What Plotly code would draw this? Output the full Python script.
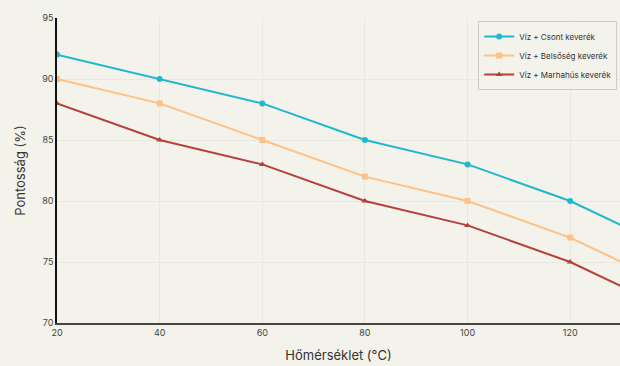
import plotly.graph_objects as go

# temperature points (°C)
homerseklet = [20, 40, 60, 80, 100, 120, 140]

# accuracy (%) per mixture
csont = [92, 90, 88, 85, 83, 80, 76]
belsoseg = [90, 88, 85, 82, 80, 77, 73]
marhahus = [88, 85, 83, 80, 78, 75, 71]

series = [
    ("Víz + Csont keverék", csont, "#1FB8CD", "circle"),
    ("Víz + Belsőség keverék", belsoseg, "#FFC185", "square"),
    ("Víz + Marhahús keverék", marhahus, "#B4413C", "triangle-up"),
]

fig = go.Figure()
for name, vals, color, sym in series:
    fig.add_trace(go.Scatter(
        x=homerseklet, y=vals, mode="lines+markers", name=name,
        line=dict(color=color, width=2),
        marker=dict(symbol=sym, size=6, color=color),
    ))

bg = "#F3F2EB"
fig.update_layout(
    width=620, height=366,
    paper_bgcolor=bg, plot_bgcolor=bg,
    margin=dict(l=57, r=0, t=18, b=43),
    font=dict(family="Inter, Roboto, sans-serif", color="#333"),
    legend=dict(
        x=0.995, y=0.99, xanchor="right", yanchor="top",
        bgcolor="rgba(243,242,235,0.9)", bordercolor="#ccc", borderwidth=1,
        font=dict(size=8, color="#333"), tracegroupgap=0,
    ),
    xaxis=dict(
        range=[20, 129.7], tickvals=[20, 40, 60, 80, 100, 120],
        showline=True, linecolor="#444", linewidth=2,
        showgrid=True, gridcolor="#e9e8e0", zeroline=False,
        tickfont=dict(size=9, color="#444"),
        title=dict(text="Hőmérséklet (°C)", font=dict(size=13, color="#333"), standoff=14),
    ),
    yaxis=dict(
        range=[70, 95], dtick=5,
        showline=True, linecolor="#111", linewidth=1.5,
        showgrid=True, gridcolor="#e9e8e0", zeroline=False,
        tickfont=dict(size=9, color="#444"),
        title=dict(text="Pontosság (%)", font=dict(size=13, color="#333"), standoff=14),
    ),
)

# drop the default page margin so the figure fills the window
fig.write_html(
    "out.html",
    config={"displayModeBar": False},
    post_script="document.body.style.margin='0';document.body.style.overflow='hidden';",
)
